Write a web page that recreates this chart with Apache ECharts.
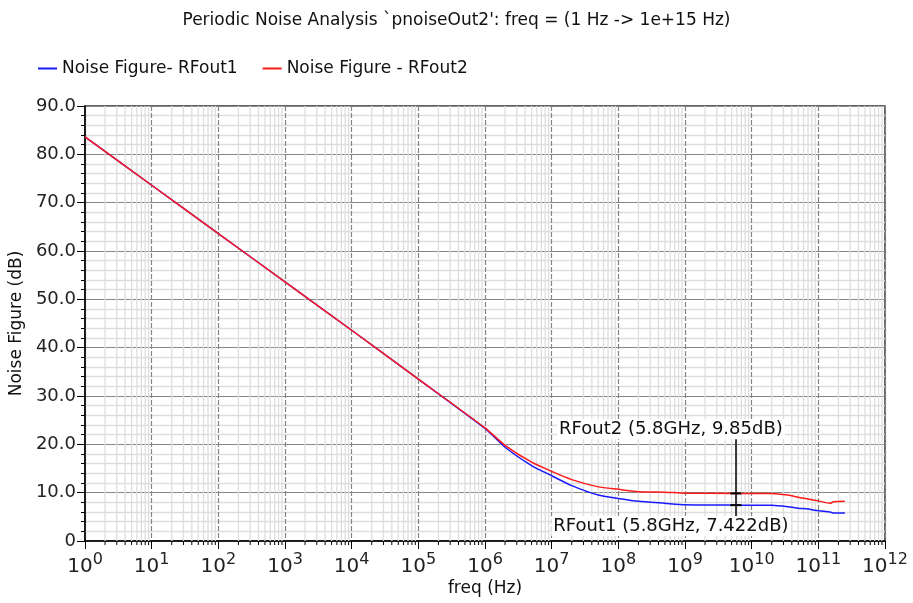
<!DOCTYPE html>
<html>
<head>
<meta charset="utf-8">
<script src="https://cdn.jsdelivr.net/npm/echarts@6/dist/echarts.min.js"></script>
<style>html,body{margin:0;padding:0;background:#fff;}#c{width:913px;height:603px;}</style>
</head>
<body>
<div id="c"></div>
<script>
// ---- data ----
const titleText = "Periodic Noise Analysis `pnoiseOut2': freq = (1 Hz -> 1e+15 Hz)";
const seriesNames = ['Noise Figure- RFout1', 'Noise Figure - RFout2'];
const freq = [1, 10, 100, 1e3, 1e4, 1e5, 1e6, 2e6, 5e6, 1e7, 2e7, 5e7, 1e8, 2e8, 5e8, 1e9, 5.8e9, 2e10, 3.5e10, 5e10, 7e10, 1e11, 1.5e11, 1.7e11, 2.5e11];
const nfRFout1 = [83.6, 73.6, 63.6, 53.6, 43.6, 33.5, 23.3, 19.4, 15.6, 13.5, 11.45, 9.5, 8.8, 8.2, 7.8, 7.5, 7.422, 7.4, 7.1, 6.8, 6.6, 6.25, 6.0, 5.8, 5.8];
const nfRFout2 = [83.6, 73.6, 63.6, 53.6, 43.6, 33.5, 23.4, 19.8, 16.3, 14.4, 12.7, 11.2, 10.7, 10.2, 10.1, 9.9, 9.85, 9.85, 9.5, 9.05, 8.7, 8.3, 7.8, 8.1, 8.2];
const markerFreq = 5.8e9;
const markerRFout1 = 7.422;
const markerRFout2 = 9.85;
const markerLabel1 = 'RFout1 (5.8GHz, 7.422dB)';
const markerLabel2 = 'RFout2 (5.8GHz, 9.85dB)';
const markerTop = 21.4;     // extent of the marker line (dB)
const markerBottom = 3.6;
const label2At = 23.1;
const label1At = 3.1;
const xMin = 1, xMax = 1e12;
const yMin = 0, yMax = 90, yStep = 10;

// minor decade positions (2..9 x 10^k) for the log grid
const minorFreqs = [];
for (let k = 0; k < 12; k++) for (let m = 2; m <= 9; m++) minorFreqs.push(m * Math.pow(10, k));

const chart = echarts.init(document.getElementById('c'), null, {renderer: 'canvas'});
const FONT = 'DejaVu Sans';

function minorRender(params, api) {
  const x = api.value(0);
  const top = api.coord([x, yMax]);
  const bot = api.coord([x, yMin]);
  return {
    type: 'group',
    children: [
      {type: 'line', shape: {x1: top[0], y1: top[1], x2: bot[0], y2: bot[1]}, style: {stroke: '#dedede', lineWidth: 1.3}},
      {type: 'line', shape: {x1: bot[0], y1: bot[1], x2: bot[0], y2: bot[1] + 4}, style: {stroke: '#000', lineWidth: 1}}
    ]
  };
}

const labelStyle = {
  show: true, fontFamily: FONT, fontSize: 18, color: '#111',
  backgroundColor: '#fff', padding: [1, 2], offset: [-65, 0], position: 'inside'
};

chart.setOption({
  animation: false,
  backgroundColor: '#fff',
  title: {
    text: titleText, left: 'center', top: 7,
    textStyle: {fontFamily: FONT, fontSize: 17, fontWeight: 'normal', color: '#111'}
  },
  legend: {
    data: seriesNames, left: 33, top: 55, icon: 'rect', itemWidth: 19, itemHeight: 2, itemGap: 25,
    textStyle: {fontFamily: FONT, fontSize: 17, color: '#111'}
  },
  grid: {left: 85, right: 28, top: 106, bottom: 62, show: true, borderColor: '#333', borderWidth: 1.5},
  xAxis: {
    type: 'log', logBase: 10, min: xMin, max: xMax, interval: 1,
    name: 'freq (Hz)', nameLocation: 'middle', nameGap: 39, nameMoveOverlap: false,
    nameTextStyle: {fontFamily: FONT, fontSize: 17, color: '#111'},
    axisLine: {show: true, lineStyle: {color: '#000', width: 1.5}},
    axisTick: {show: true, length: 8, lineStyle: {color: '#000', width: 1}},
    splitLine: {show: true, lineStyle: {color: '#858585', width: 1.2, type: [5, 2]}},
    axisLabel: {
      margin: 11, color: '#222', fontFamily: FONT,
      formatter: function (v) { return '{b|10}{s|' + Math.round(Math.log10(v)) + '}'; },
      rich: {
        b: {fontFamily: FONT, fontSize: 20, color: '#222', verticalAlign: 'bottom'},
        s: {fontFamily: FONT, fontSize: 16, color: '#222', verticalAlign: 'bottom', padding: [0, 0, 9, 0]}
      }
    }
  },
  yAxis: {
    type: 'value', min: yMin, max: yMax, interval: yStep,
    name: 'Noise Figure (dB)', nameLocation: 'middle', nameGap: 60, nameMoveOverlap: false,
    nameTextStyle: {fontFamily: FONT, fontSize: 17, color: '#111'},
    axisLine: {show: true, lineStyle: {color: '#000', width: 1.5}},
    axisTick: {show: true, length: 8, lineStyle: {color: '#000', width: 1}},
    minorTick: {show: true, splitNumber: 5, length: 4, lineStyle: {color: '#000', width: 1}},
    splitLine: {show: true, lineStyle: {color: '#858585', width: 1.2}},
    minorSplitLine: {show: true, lineStyle: {color: '#dedede', width: 1.3}},
    axisLabel: {
      margin: 9, fontFamily: FONT, fontSize: 18, color: '#222',
      formatter: function (v) { return v === 0 ? '0' : v.toFixed(1); }
    }
  },
  series: [
    {
      type: 'custom', name: 'minorGrid', silent: true, z: 1,
      coordinateSystem: 'cartesian2d', renderItem: minorRender,
      data: minorFreqs.map(v => [v, 0]), encode: {x: 0, y: 1}
    },
    {
      name: seriesNames[0], type: 'line', symbol: 'none', smooth: 0.2, z: 3,
      data: freq.map((f, i) => [f, nfRFout1[i]]),
      lineStyle: {color: '#1a1aff', width: 1.5}, itemStyle: {color: '#1a1aff'},
      markPoint: {
        silent: true, animation: false,
        data: [
          {coord: [markerFreq, markerRFout1], symbol: 'rect', symbolSize: [11, 2], itemStyle: {color: '#000'}, label: {show: false}},
          {coord: [markerFreq, label1At], symbol: 'rect', symbolSize: [1, 1], itemStyle: {color: 'rgba(0,0,0,0)'},
           label: Object.assign({}, labelStyle, {formatter: markerLabel1})}
        ]
      }
    },
    {
      name: seriesNames[1], type: 'line', symbol: 'none', smooth: 0.2, z: 4,
      data: freq.map((f, i) => [f, nfRFout2[i]]),
      lineStyle: {color: '#ff1a1a', width: 1.5}, itemStyle: {color: '#ff1a1a'},
      markLine: {
        silent: true, symbol: 'none', animation: false,
        lineStyle: {color: '#000', width: 1.5, type: 'solid'}, label: {show: false},
        data: [[{coord: [markerFreq, markerBottom]}, {coord: [markerFreq, markerTop]}]]
      },
      markPoint: {
        silent: true, animation: false,
        data: [
          {coord: [markerFreq, markerRFout2], symbol: 'rect', symbolSize: [11, 2], itemStyle: {color: '#000'}, label: {show: false}},
          {coord: [markerFreq, label2At], symbol: 'rect', symbolSize: [1, 1], itemStyle: {color: 'rgba(0,0,0,0)'},
           label: Object.assign({}, labelStyle, {formatter: markerLabel2})}
        ]
      }
    }
  ]
});
</script>
</body>
</html>
